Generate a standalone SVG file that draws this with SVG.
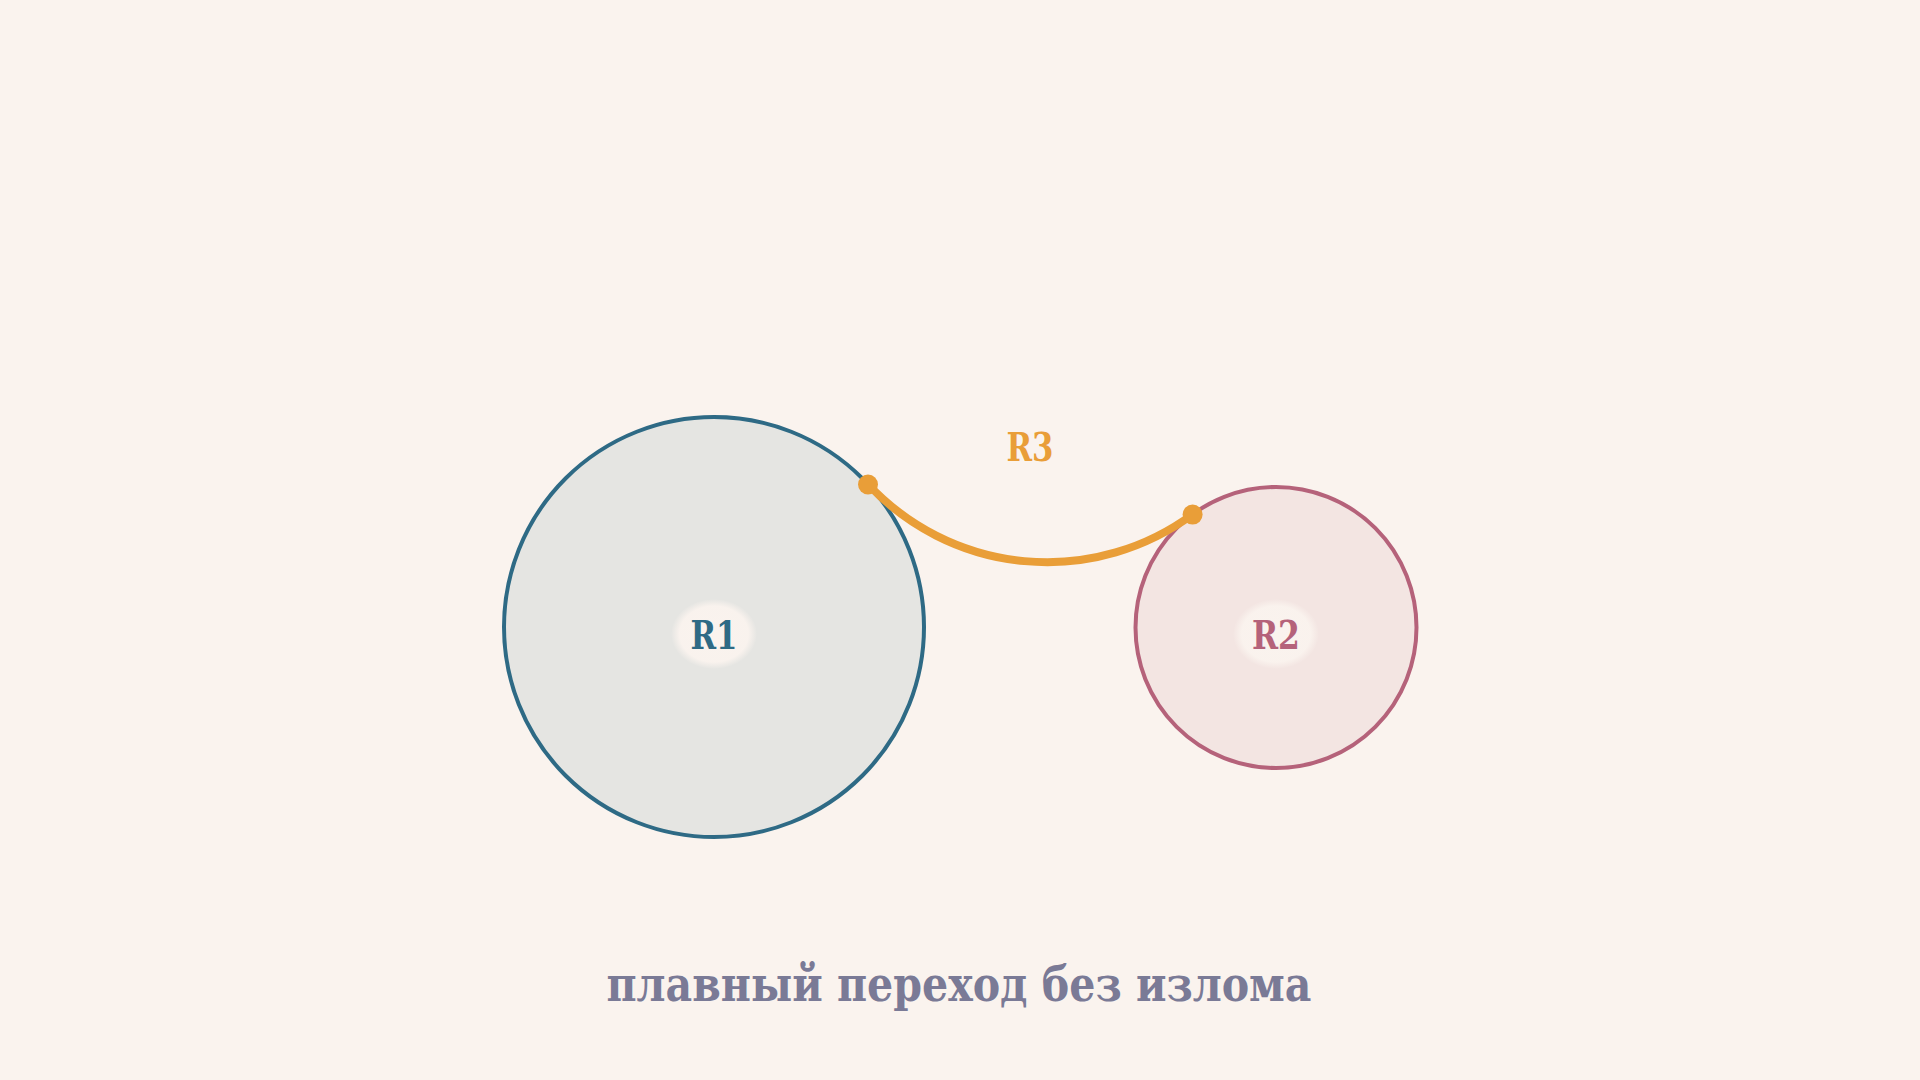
<svg xmlns="http://www.w3.org/2000/svg" width="1920" height="1080" viewBox="0 0 1920 1080">
  <defs>
    <radialGradient id="halo" cx="0.5" cy="0.5" r="0.5">
      <stop offset="0" stop-color="#FAF3EE" stop-opacity="1"/>
      <stop offset="0.8" stop-color="#FAF3EE" stop-opacity="0.95"/>
      <stop offset="1" stop-color="#FAF3EE" stop-opacity="0"/>
    </radialGradient>
  </defs>
  <style>
    .lbl { font-family: 'DejaVu Serif Condensed', 'DejaVu Serif', serif; font-weight: bold; text-anchor: middle; }
  </style>
  <rect x="0" y="0" width="1920" height="1080" fill="#FAF3EE"/>
  <g id="R1">
    <circle cx="714" cy="627" r="210" fill="#E5E5E2" stroke="#2E6A85" stroke-width="4"/>
    <ellipse cx="714" cy="634" rx="43" ry="35" fill="url(#halo)"/>
    <text class="lbl" x="714" y="649" font-size="40" fill="#2E6A85" textLength="47" lengthAdjust="spacingAndGlyphs">R1</text>
  </g>
  <g id="R2">
    <circle cx="1276" cy="627.5" r="140.5" fill="#F3E5E2" stroke="#B5627A" stroke-width="4"/>
    <ellipse cx="1276" cy="634" rx="43" ry="35" fill="url(#halo)"/>
    <text class="lbl" x="1276" y="649" font-size="40" fill="#B5627A" textLength="48" lengthAdjust="spacingAndGlyphs">R2</text>
  </g>
  <g id="connectors">
    <path d="M 867.7 483.9 A 245 245 0 0 0 1192.6 514.4" fill="none" stroke="#E99E38" stroke-width="8" stroke-linecap="round"/>
    <circle cx="868" cy="484.5" r="10" fill="#E99E38"/>
    <circle cx="1192.6" cy="514.6" r="10" fill="#E99E38"/>
  </g>
  <g id="R3">
    <text class="lbl" x="1030" y="461" font-size="39" fill="#E99E38" textLength="47" lengthAdjust="spacingAndGlyphs">R3</text>
  </g>
  <text class="lbl" x="959" y="1001" font-size="48" fill="#7A7A96" textLength="705" lengthAdjust="spacingAndGlyphs">плавный переход без излома</text>
</svg>
